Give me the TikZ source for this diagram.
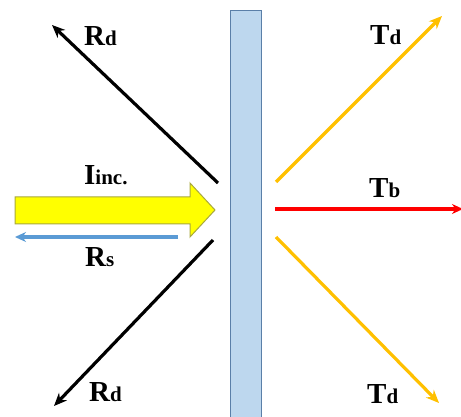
\documentclass[tikz,border=0pt]{standalone}
\usepackage{fontspec}
\setmainfont{Liberation Serif}
\usetikzlibrary{arrows.meta}
\definecolor{slabfill}{HTML}{BDD7EE}
\definecolor{slabline}{HTML}{5A7FA8}
\definecolor{incfill}{HTML}{FFFF00}
\definecolor{incline}{HTML}{A8A83C}
\definecolor{rsblue}{HTML}{5B9BD5}
\definecolor{tdgold}{HTML}{FFC000}
\definecolor{tbred}{HTML}{FF0000}
\tikzset{
  ray/.style={line width=3.2pt, -{Stealth[length=13pt,width=11pt]}},
  lbl/.style={font=\bfseries\fontsize{29}{29}\selectfont, inner sep=0pt, anchor=base west},
}
\newcommand{\sm}[1]{{\fontsize{21}{21}\selectfont #1}}
\begin{document}
\begin{tikzpicture}[x=1pt,y=-1pt]
\useasboundingbox (0,0) rectangle (461,417);
\clip (0,0) rectangle (461,417);
% slab
\node[draw=slabline, fill=slabfill, line width=1pt, minimum width=31pt, minimum height=420pt, anchor=north west, inner sep=0pt] (slab) at (230,10) {};
% coordinates
\coordinate (rdus) at (218,183);
\coordinate (rdue) at (52,25);
\coordinate (rdls) at (213,240);
\coordinate (rdle) at (54,406);
\coordinate (rss) at (178,237);
\coordinate (rse) at (15,237);
\coordinate (tdus) at (276,182);
\coordinate (tdue) at (442,16);
\coordinate (tbs) at (275,209);
\coordinate (tbe) at (463,209);
\coordinate (tdls) at (276,237);
\coordinate (tdle) at (439,403);
% incident block arrow
\draw[fill=incfill, draw=incline, line width=1pt] (15,197) -- (190,197) -- (190,183) -- (215,210) -- (190,237) -- (190,224) -- (15,224) -- cycle;
% reflected rays
\draw[ray, black] (rdus) -- (rdue);
\draw[ray, black] (rdls) -- (rdle);
\draw[line width=3.4pt, rsblue, -{Stealth[length=11pt,width=10pt]}] (rss) -- (rse);
% transmitted rays
\draw[ray, tdgold] (tdus) -- (tdue);
\draw[line width=3.4pt, tbred, -{Stealth[length=11pt,width=10pt]}] (tbs) -- (tbe);
\draw[ray, tdgold] (tdls) -- (tdle);
% labels
\node[lbl] (lrdu) at (84,46) {R\sm{d}};
\node[lbl] (ltdu) at (370,45) {T\sm{d}};
\node[lbl] (ltb) at (369,197) {T\sm{b}};
\node[lbl] (linc) at (84,185) {I\sm{inc.}};
\node[lbl] (lrs) at (85,266) {R\sm{s}};
\node[lbl] (lrdl) at (89,401) {R\sm{d}};
\node[lbl] (ltdl) at (367,403) {T\sm{d}};
\end{tikzpicture}
\end{document}
